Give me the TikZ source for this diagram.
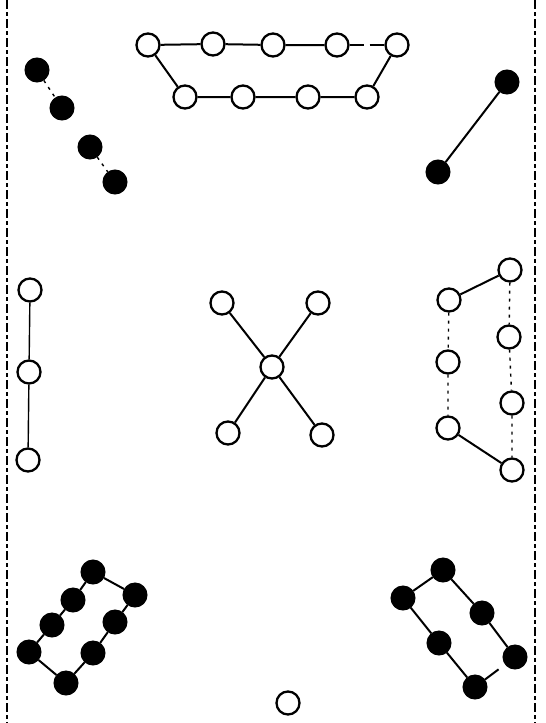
\documentclass[tikz,border=0pt]{standalone}
\begin{document}
\begin{tikzpicture}[x=1pt,y=-1pt,
  wnode/.style={circle,draw=black,fill=white,line width=2.3pt,minimum size=23pt,inner sep=0pt},
  bnode/.style={circle,draw=black,fill=black,line width=1pt,minimum size=24pt,inner sep=0pt},
  edge/.style={line width=2pt},
  thinedge/.style={line width=1.4pt},
  dotedge/.style={line width=1.4pt,dash pattern=on 3pt off 5pt},
  brokenedge/.style={line width=2pt,dash pattern=on 14pt off 6pt},
  border/.style={line width=2.3pt,dash pattern=on 9pt off 3pt on 4pt off 3pt}]
\useasboundingbox (0,0) rectangle (546,723);
\fill[white] (0,0) rectangle (546,723);
% borders
\coordinate (lt) at (7,0); \coordinate (lb) at (7,723);
\coordinate (rt) at (535,0); \coordinate (rb) at (535,723);
\draw[border] (lt) -- (lb);
\draw[border] (rt) -- (rb);
% top polygon
\node[wnode] (t1) at (148,45) {};
\node[wnode] (t2) at (213,44) {};
\node[wnode] (t3) at (273,45) {};
\node[wnode] (t4) at (337,45) {};
\node[wnode] (t5) at (397,45) {};
\node[wnode] (b1) at (185,97) {};
\node[wnode] (b2) at (243,97) {};
\node[wnode] (b3) at (308,97) {};
\node[wnode] (b4) at (367,97) {};
\draw[edge] (t1) -- (t2) (t2) -- (t3) (t3) -- (t4);
\draw[brokenedge] (t4) -- (t5);
\draw[edge] (t1) -- (b1) (b1) -- (b2) (b2) -- (b3) (b3) -- (b4) (b4) -- (t5);
% top left black chain
\node[bnode] (k1) at (37,70) {};
\node[bnode] (k2) at (62,108) {};
\node[bnode] (k3) at (90,147) {};
\node[bnode] (k4) at (115,182) {};
\draw[dotedge] (k1) -- (k2) (k3) -- (k4);
% top right pair
\node[bnode] (r1) at (507,82) {};
\node[bnode] (r2) at (438,172) {};
\draw[edge] (r1) -- (r2);
% middle left
\node[wnode] (m1) at (30,290) {};
\node[wnode] (m2) at (29,372) {};
\node[wnode] (m3) at (28,460) {};
\draw[thinedge] (m1) -- (m2) (m2) -- (m3);
% center X
\node[wnode] (c0) at (272,367) {};
\node[wnode] (c1) at (222,303) {};
\node[wnode] (c2) at (318,303) {};
\node[wnode] (c3) at (228,433) {};
\node[wnode] (c4) at (322,435) {};
\draw[edge] (c0) -- (c1) (c0) -- (c2) (c0) -- (c3) (c0) -- (c4);
% middle right
\node[wnode] (q1) at (510,270) {};
\node[wnode] (q2) at (449,300) {};
\node[wnode] (q3) at (509,337) {};
\node[wnode] (q4) at (448,362) {};
\node[wnode] (q5) at (512,403) {};
\node[wnode] (q6) at (448,428) {};
\node[wnode] (q7) at (512,470) {};
\draw[edge] (q1) -- (q2) (q6) -- (q7);
\draw[dotedge] (q2) -- (q4) (q4) -- (q6) (q1) -- (q3) (q3) -- (q5) (q5) -- (q7);
% bottom left
\node[bnode] (u1) at (93,572) {};
\node[bnode] (u2) at (135,595) {};
\node[bnode] (u3) at (73,600) {};
\node[bnode] (u4) at (115,622) {};
\node[bnode] (u5) at (52,625) {};
\node[bnode] (u6) at (93,653) {};
\node[bnode] (u7) at (29,652) {};
\node[bnode] (u8) at (66,683) {};
\draw[edge] (u1) -- (u2) (u1) -- (u3) (u3) -- (u5) (u5) -- (u7) (u7) -- (u8)
  (u8) -- (u6) (u6) -- (u4) (u4) -- (u2);
% bottom right
\node[bnode] (v1) at (443,570) {};
\node[bnode] (v2) at (403,598) {};
\node[bnode] (v3) at (482,613) {};
\node[bnode] (v4) at (439,643) {};
\node[bnode] (v5) at (515,657) {};
\node[bnode] (v6) at (475,687) {};
\draw[edge] (v1) -- (v2) (v1) -- (v3) (v3) -- (v5) (v2) -- (v4) (v4) -- (v6);
\draw[edge,shorten >=8pt] (v6) -- (v5);
% bottom center
\node[wnode] (z) at (288,703) {};
\end{tikzpicture}
\end{document}
